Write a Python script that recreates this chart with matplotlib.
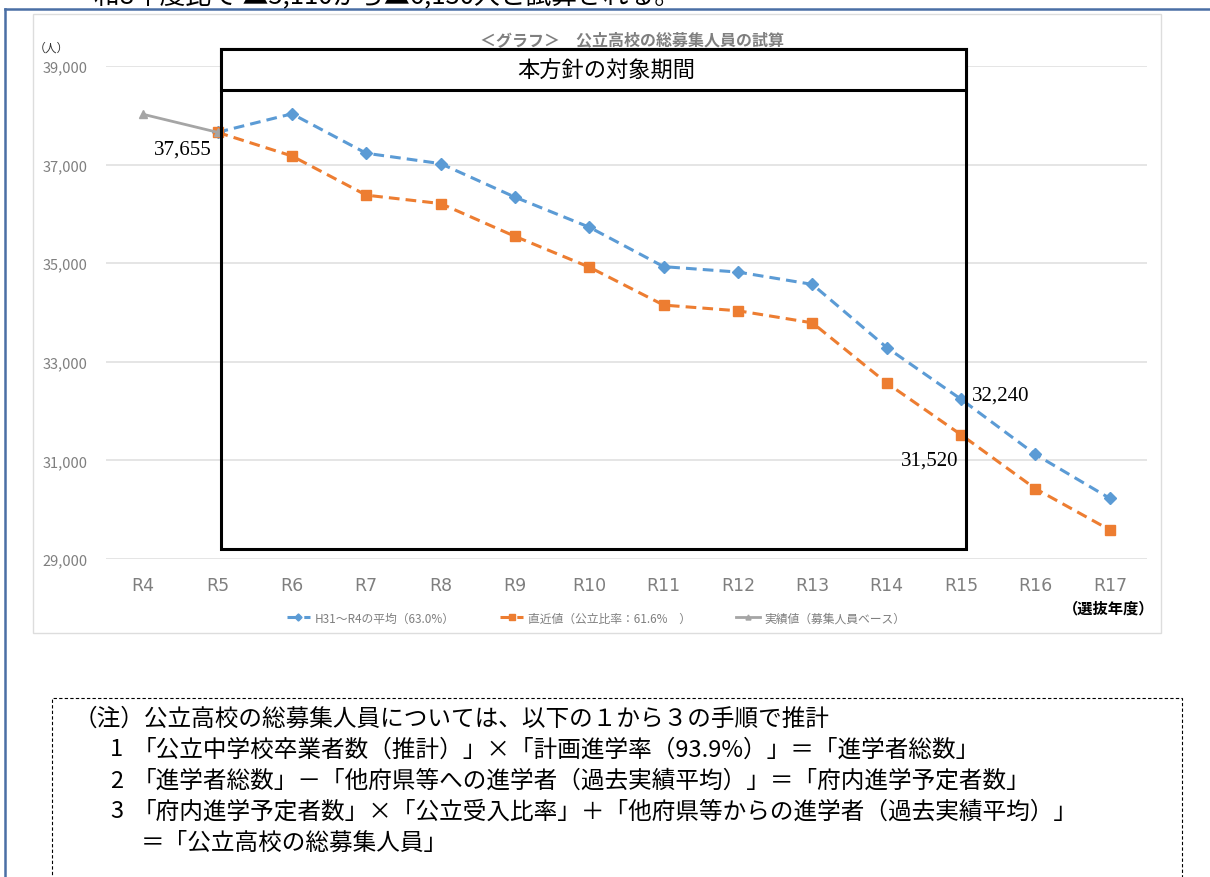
import matplotlib
matplotlib.use("Agg")
import matplotlib.pyplot as plt
from matplotlib.patches import Rectangle
from matplotlib.lines import Line2D

plt.rcParams['font.family'] = ['Noto Sans CJK JP', 'DejaVu Sans']

# data
years = ["R4", "R5", "R6", "R7", "R8", "R9", "R10", "R11", "R12", "R13", "R14", "R15", "R16", "R17"]
avg_years = years[1:]
avg_vals = [37655, 38030, 37230, 37020, 36340, 35730, 34930, 34820, 34570, 33290, 32240, 31120, 30230]
recent_vals = [37655, 37175, 36380, 36210, 35545, 34920, 34150, 34035, 33790, 32570, 31520, 30425, 29590]
actual_years = ["R4", "R5"]
actual_vals = [38020, 37655]

yticks = [29000, 31000, 33000, 35000, 37000, 39000]
legend_labels = ["H31～R4の平均（63.0%）", "直近値（公立比率：61.6%　）", "実績値（募集人員ベース）"]

W, H = 1210, 878
def fx(px):
    return px / W
def fy(py):
    return 1 - py / H

fig = plt.figure(figsize=(W / 100, H / 100), dpi=100)

# page frame and chart frame
fig.add_artist(Line2D([fx(5), fx(5)], [fy(10), 0], color="#4A6FA5", lw=1.8))
fig.add_artist(Line2D([fx(5), 1], [fy(10), fy(10)], color="#4A6FA5", lw=1.8))
fig.add_artist(Rectangle((fx(33), fy(634)), fx(1161) - fx(33), fy(15) - fy(634),
                         transform=fig.transFigure, fill=False, ec="#DDDDDD", lw=1))
# sentence above the chart, cut off by the top edge as in the source page
fig.text(fx(94), fy(-4), "和8年度比で ▲5,110から▲6,130人と試算される。", fontsize=18.5, va="center")

ax = fig.add_axes([fx(106), fy(560), fx(1147) - fx(106), fy(67) - fy(560)])
x = list(range(len(years)))
xi = {y: i for i, y in enumerate(years)}

l1, = ax.plot([xi[y] for y in avg_years], avg_vals, color="#5B9BD5", ls=(0, (3.5, 2)), lw=2.2,
              marker="D", ms=6, zorder=3)
l2, = ax.plot([xi[y] for y in avg_years], recent_vals, color="#ED7D31", ls=(0, (3.5, 2)), lw=2.2,
              marker="s", ms=7.5, zorder=3)
l3, = ax.plot([xi[y] for y in actual_years], actual_vals, color="#A5A5A5", lw=2, marker="^", ms=6, zorder=4)

ax.set_xlim(-0.5, len(years) - 0.5)
ax.set_ylim(29000, 39000)
ax.set_yticks(yticks)
ax.set_yticklabels([f"{v:,}" for v in yticks])
ax.set_xticks(x)
ax.set_xticklabels(years, family=["Liberation Sans Narrow", "DejaVu Sans"])
ax.tick_params(axis="y", length=0, pad=13, labelsize=10.5, labelcolor="#7F7F7F")
ax.tick_params(axis="x", length=0, pad=12, labelsize=12.5, labelcolor="#7F7F7F")
ax.grid(axis="y", color="#E0E0E0", lw=1.2)
ax.set_axisbelow(True)
for s in ax.spines.values():
    s.set_visible(False)

# data labels
serif = ["Liberation Serif", "DejaVu Serif"]
ax.annotate(f"{avg_vals[0]:,}", (xi["R5"], avg_vals[0]), xytext=(-4, -12), textcoords="offset points",
            ha="right", va="center", fontsize=15, family=serif)
i15 = avg_years.index("R15")
ax.annotate(f"{avg_vals[i15]:,}", (xi["R15"], avg_vals[i15]), xytext=(8, 3), textcoords="offset points",
            ha="left", va="center", fontsize=15, family=serif)
ax.annotate(f"{recent_vals[i15]:,}", (xi["R15"], recent_vals[i15]), xytext=(-2, -18), textcoords="offset points",
            ha="right", va="center", fontsize=15, family=serif)

fig.text(fx(632), fy(40), "＜グラフ＞　公立高校の総募集人員の試算", fontsize=11.5, color="#7F7F7F",
         weight="bold", ha="center", va="center")
fig.text(fx(51), fy(48), "（人）", fontsize=8.5, ha="center", va="center", color="#333333")
fig.text(fx(1109), fy(608), "（選抜年度）", fontsize=11, weight="bold", ha="center", va="center")

fig.legend([l1, l2, l3], legend_labels, loc="center", bbox_to_anchor=(fx(596), fy(619)), ncol=3,
           frameon=False, fontsize=8.5, labelcolor="#7F7F7F", markerscale=0.6, handlelength=2.0,
           columnspacing=3.8, handletextpad=0.4)

# target period box
fig.add_artist(Rectangle((fx(221), fy(550)), fx(966) - fx(221), fy(50) - fy(550),
                         transform=fig.transFigure, fill=False, ec="black", lw=2.2, zorder=5))
fig.add_artist(Rectangle((fx(221), fy(91)), fx(966) - fx(221), fy(50) - fy(91),
                         transform=fig.transFigure, fc="white", ec="black", lw=2.2, zorder=5))
fig.text(fx(606), fy(71), "本方針の対象期間", fontsize=16, ha="center", va="center", zorder=6)

# note box
fig.add_artist(Rectangle((fx(52), fy(890)), fx(1182) - fx(52), fy(699) - fy(890),
                         transform=fig.transFigure, fill=False, ec="black", lw=0.8, ls=(0, (3, 2))))
note_fs = 17
fig.text(fx(74), fy(719), "（注）公立高校の総募集人員については、以下の１から３の手順で推計", fontsize=note_fs, va="center")
steps = ["「公立中学校卒業者数（推計）」×「計画進学率（93.9%）」＝「進学者総数」",
         "「進学者総数」－「他府県等への進学者（過去実績平均）」＝「府内進学予定者数」",
         "「府内進学予定者数」×「公立受入比率」＋「他府県等からの進学者（過去実績平均）」"]
for k, (txt, yy) in enumerate(zip(steps, [750, 781, 812])):
    fig.text(fx(110), fy(yy), str(k + 1), fontsize=note_fs, va="center")
    fig.text(fx(133), fy(yy), txt, fontsize=note_fs, va="center")
fig.text(fx(141), fy(843), "＝「公立高校の総募集人員」", fontsize=note_fs, va="center")

fig.savefig("out.png", dpi=100)
